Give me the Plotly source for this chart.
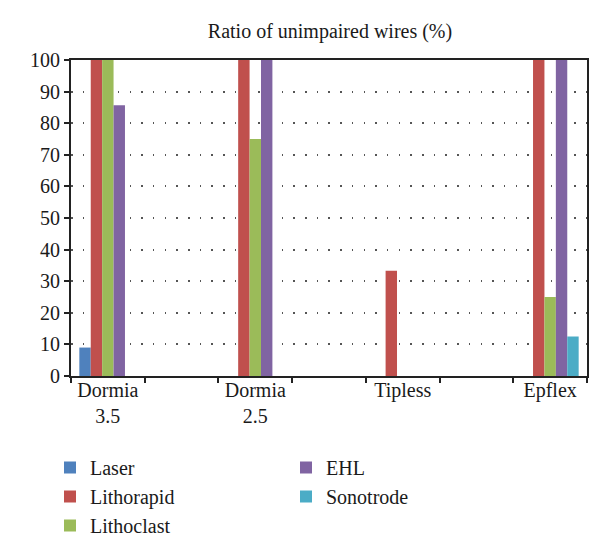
import plotly.graph_objects as go

categories = ["Dormia<br>3.5", "Dormia<br>2.5", "Tipless", "Epflex"]
positions = [0, 1, 2, 3]
series_names = ["Laser", "Lithorapid", "Lithoclast", "EHL", "Sonotrode"]
laser = [9, 0, 0, 0]
lithorapid = [100, 100, 33.3, 100]
lithoclast = [100, 75, 0, 25]
ehl = [85.7, 100, 0, 100]
sonotrode = [0, 0, 0, 12.5]
y_ticks = [0, 10, 20, 30, 40, 50, 60, 70, 80, 90, 100]
x_boundaries = [-0.25, 0.25, 0.75, 1.25, 1.75, 2.25, 2.75, 3.25]

colors = ["#4F81BD", "#C0504D", "#9BBB59", "#8064A2", "#4BACC6"]
legends = ["legend", "legend", "legend", "legend2", "legend2"]
values = [laser, lithorapid, lithoclast, ehl, sonotrode]

FONT = "Liberation Serif"
TXT = "#1a1a1a"

fig = go.Figure()
for name, vals, col, lg in zip(series_names, values, colors, legends):
    fig.add_trace(go.Bar(x=positions, y=vals, name=name, marker_color=col,
                         marker_line_width=0, legend=lg))

fig.update_layout(
    width=600, height=556,
    margin=dict(l=63, r=21, t=52, b=188, autoexpand=False),
    paper_bgcolor="white", plot_bgcolor="white",
    barmode="group", bargap=0.613, bargroupgap=0,
    font=dict(family=FONT, size=20, color=TXT),
    title=dict(text="Ratio of unimpaired wires (%)", x=322/600, xanchor="center",
               y=1-23/556, yanchor="middle", yref="container",
               font=dict(family=FONT, size=20, color=TXT)),
    xaxis=dict(range=[-0.25, 3.25], tickvals=positions, ticktext=categories,
               ticks="", tickfont=dict(family=FONT, size=20, color=TXT),
               ticklabelstandoff=-5,
               minor=dict(tickvals=x_boundaries, ticks="outside", ticklen=5,
                          tickwidth=1.5, tickcolor="#222", showgrid=False),
               showline=True, linecolor="#222", linewidth=2, mirror=True,
               showgrid=False, zeroline=False, automargin=False),
    yaxis=dict(range=[0, 100], tickvals=y_ticks, ticks="outside", ticklen=5,
               tickwidth=1.5, tickcolor="#222",
               showline=True, linecolor="#222", linewidth=2, mirror=True,
               showgrid=True, gridcolor="#555", gridwidth=1.5, griddash="1.5px,10.2px",
               zeroline=False, automargin=False,
               tickfont=dict(family=FONT, size=20, color=TXT)),
    legend=dict(x=42/600, xref="container", y=1-440/556, yref="container",
                yanchor="top", xanchor="left", orientation="v",
                font=dict(family=FONT, size=20, color=TXT),
                bgcolor="rgba(0,0,0,0)", traceorder="normal"),
    legend2=dict(x=278/600, xref="container", y=1-440/556, yref="container",
                 yanchor="top", xanchor="left", orientation="v",
                 font=dict(family=FONT, size=20, color=TXT),
                 bgcolor="rgba(0,0,0,0)", traceorder="normal"),
    showlegend=True,
)

fig.write_html("out.html")
